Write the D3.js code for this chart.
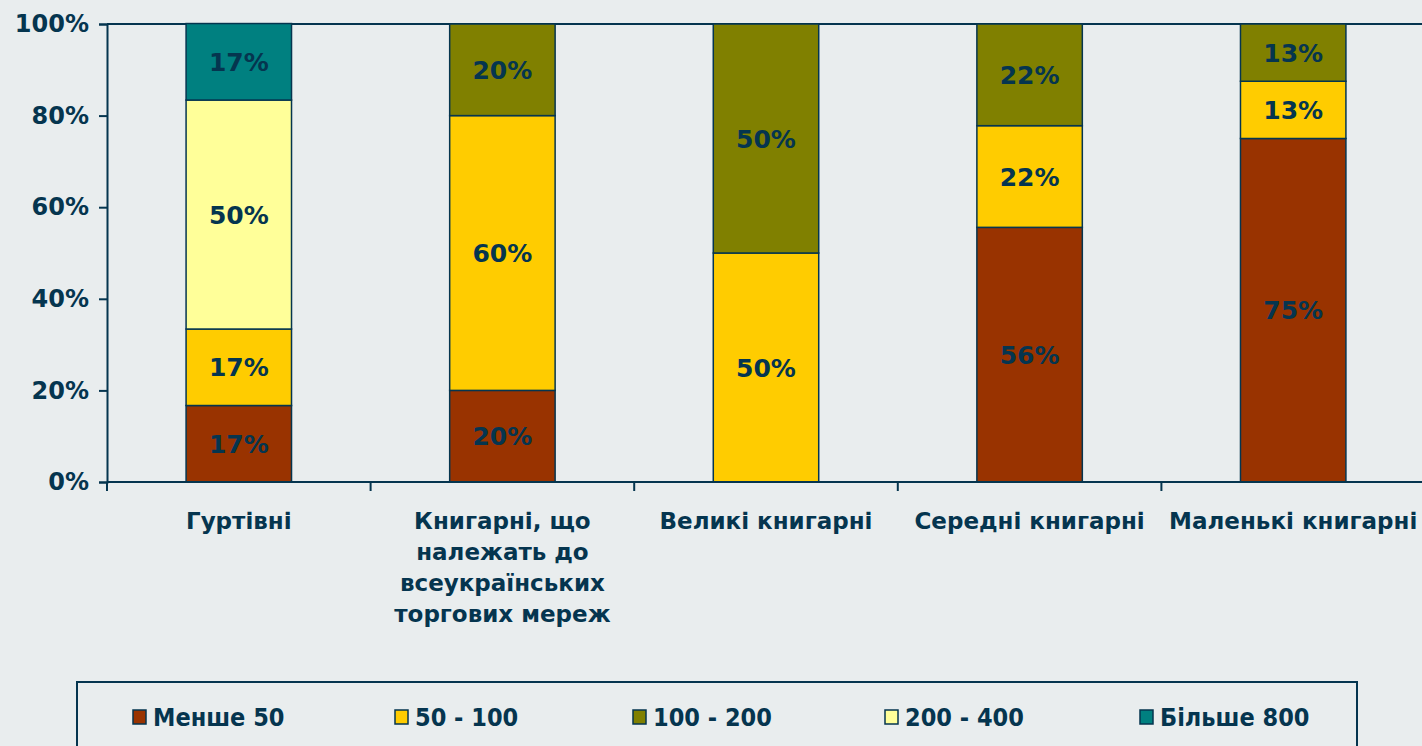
<!DOCTYPE html>
<html>
<head>
<meta charset="utf-8">
<script src="https://cdn.jsdelivr.net/npm/d3@7"></script>
<style>
  html, body { margin: 0; padding: 0; background: #e9edee; }
  svg { display: block; }
  text { font-family: "DejaVu Sans", Verdana, sans-serif; font-weight: bold; fill: #05354f; }
  .legend text { font-family: "DejaVu Sans Condensed", "DejaVu Sans", sans-serif; font-stretch: condensed; }
</style>
</head>
<body>
<svg id="chart"></svg>
<script>
// Categories (x axis) and their wrapped tick labels
const categories = ['Гуртівні', 'Книгарні мереж', 'Великі книгарні', 'Середні книгарні', 'Маленькі книгарні'];
const categoryLines = [
    ['Гуртівні'],
    ['Книгарні, що', 'належать до', 'всеукраїнських', 'торгових мереж'],
    ['Великі книгарні'],
    ['Середні книгарні'],
    ['Маленькі книгарні']
];

// Series (stack order bottom -> top)
const seriesNames = ['Менше 50', '50 - 100', '100 - 200', '200 - 400', 'Більше 800'];
const seriesColors = ['#993300', '#ffcc00', '#808000', '#ffff99', '#008080'];

// Share of each series per category, %
const less50   = [16.7, 20, 0, 55.6, 75];
const from50   = [16.7, 60, 50, 22.2, 12.5];
const from100  = [0, 20, 50, 22.2, 12.5];
const from200  = [50, 0, 0, 0, 0];
const more800  = [16.7, 0, 0, 0, 0];

const yTicks = [0, 20, 40, 60, 80, 100];

const width = 1422, height = 746;
const margin = { top: 24, left: 107, bottom: 264 };
const plotRight = 1425;
const ink = '#05354f';

const svg = d3.select('#chart')
    .attr('width', width)
    .attr('height', height);

const table = categories.map((c, i) => ({
    cat: c,
    [seriesNames[0]]: less50[i],
    [seriesNames[1]]: from50[i],
    [seriesNames[2]]: from100[i],
    [seriesNames[3]]: from200[i],
    [seriesNames[4]]: more800[i]
}));

const stacked = d3.stack().keys(seriesNames)(table);

const xScale = d3.scaleBand()
    .domain(categories)
    .range([margin.left, plotRight])
    .paddingInner(0.6)
    .paddingOuter(0.3);

const yScale = d3.scaleLinear()
    .domain([0, 100])
    .range([height - margin.bottom, margin.top]);

const color = d3.scaleOrdinal().domain(seriesNames).range(seriesColors);

// top border of plot area
svg.append('line')
    .attr('x1', margin.left).attr('x2', plotRight)
    .attr('y1', yScale(100)).attr('y2', yScale(100))
    .attr('stroke', ink).attr('stroke-width', 2);

// bars
const layers = svg.append('g')
    .selectAll('g')
    .data(stacked)
    .join('g')
    .attr('fill', d => color(d.key));

layers.selectAll('rect')
    .data(d => d.filter(s => s[1] - s[0] > 0))
    .join('rect')
    .attr('x', d => xScale(d.data.cat))
    .attr('width', xScale.bandwidth())
    .attr('y', d => yScale(d[1]))
    .attr('height', d => yScale(d[0]) - yScale(d[1]))
    .attr('stroke', ink)
    .attr('stroke-width', 1.5);

// value labels
layers.selectAll('text')
    .data(d => d.filter(s => s[1] - s[0] > 0))
    .join('text')
    .attr('x', d => xScale(d.data.cat) + xScale.bandwidth() / 2)
    .attr('y', d => yScale((d[0] + d[1]) / 2))
    .attr('dy', '0.36em')
    .attr('text-anchor', 'middle')
    .attr('font-size', 25)
    .text(d => Math.round(d[1] - d[0]) + '%');

// y axis
const yAxis = d3.axisLeft(yScale)
    .tickValues(yTicks)
    .tickFormat(d => d + '%')
    .tickSize(8)
    .tickPadding(10);

const yAxisGroup = svg.append('g')
    .attr('transform', `translate(${margin.left},0)`)
    .call(yAxis);
yAxisGroup.select('.domain').attr('stroke', ink).attr('stroke-width', 2);
yAxisGroup.selectAll('.tick line').attr('stroke', ink).attr('stroke-width', 2);
yAxisGroup.selectAll('.tick text')
    .attr('font-size', 24)
    .attr('font-family', null)
    .attr('fill', ink);

// x axis: ticks at category boundaries
const xBase = yScale(0);
const boundaries = categories.map(c => xScale(c) - xScale.step() * xScale.paddingOuter());
svg.append('line')
    .attr('x1', margin.left).attr('x2', plotRight)
    .attr('y1', xBase).attr('y2', xBase)
    .attr('stroke', ink).attr('stroke-width', 2);
svg.append('g')
    .selectAll('line')
    .data(boundaries)
    .join('line')
    .attr('x1', d => d).attr('x2', d => d)
    .attr('y1', xBase).attr('y2', xBase + 9)
    .attr('stroke', ink).attr('stroke-width', 2);

// category labels
svg.append('g')
    .selectAll('text')
    .data(categories)
    .join('text')
    .attr('text-anchor', 'middle')
    .attr('font-size', 23)
    .attr('transform', d => `translate(${xScale(d) + xScale.bandwidth() / 2},529)`)
    .selectAll('tspan')
    .data((d, i) => categoryLines[i])
    .join('tspan')
    .attr('x', 0)
    .attr('y', (d, i) => i * 31)
    .text(d => d);

// legend
const legendX = [133, 395, 633, 885, 1140];
const legend = svg.append('g').attr('class', 'legend');
legend.append('rect')
    .attr('x', 77).attr('y', 682)
    .attr('width', 1280).attr('height', 80)
    .attr('fill', 'none')
    .attr('stroke', ink).attr('stroke-width', 2);

const items = legend.selectAll('g')
    .data(seriesNames)
    .join('g')
    .attr('transform', (d, i) => `translate(${legendX[i]},717)`);
items.append('rect')
    .attr('x', 0).attr('y', -7)
    .attr('width', 13).attr('height', 14)
    .attr('fill', d => color(d))
    .attr('stroke', ink).attr('stroke-width', 1.5);
items.append('text')
    .attr('x', 20)
    .attr('dy', '0.36em')
    .attr('font-size', 25)
    .text(d => d);
</script>
</body>
</html>
